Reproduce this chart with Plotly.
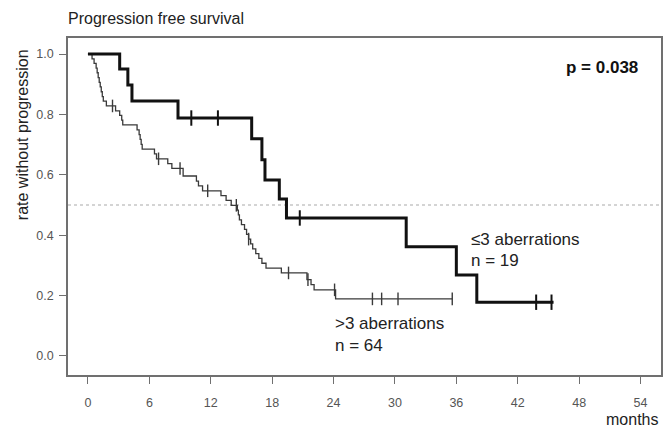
import numpy as np
import plotly.graph_objects as go

# ---------------- data ----------------
# group "<=3 aberrations" (n = 19): step times (months) and survival levels
low_t = [0, 3.1, 3.9, 4.3, 8.8, 16.0, 17.0, 17.3, 18.7, 19.4, 31.1, 36.0, 38.0, 45.5]
low_s = [1.0, 0.950, 0.897, 0.844, 0.788, 0.719, 0.650, 0.583, 0.520, 0.457, 0.362, 0.268, 0.178, 0.178]
low_cens = [10.1, 12.7, 20.7, 43.8, 45.3]

# group ">3 aberrations" (n = 64)
high_t = [0, 0.4, 0.6, 0.8, 0.9, 1.0, 1.1, 1.2, 1.3, 1.4, 1.5, 1.8, 2.7, 3.1, 3.3, 3.4,
          4.8, 5.0, 5.1, 5.2, 5.3, 6.5, 6.7, 7.8, 8.2, 9.3, 10.6, 10.8, 11.2, 13.0, 13.5,
          14.0, 14.6, 14.7, 14.8, 15.0, 15.3, 15.5, 15.7, 15.9, 16.1, 16.4, 16.7, 17.0,
          17.4, 18.9, 21.4, 21.8, 22.1, 24.2, 35.6]
high_s = [1.0, 0.984, 0.969, 0.953, 0.938, 0.922, 0.906, 0.891, 0.875, 0.859, 0.844, 0.828,
          0.812, 0.797, 0.781, 0.765, 0.749, 0.733, 0.717, 0.701, 0.685, 0.669, 0.653, 0.637,
          0.621, 0.596, 0.579, 0.563, 0.547, 0.531, 0.515, 0.499, 0.483, 0.467, 0.451, 0.435,
          0.419, 0.403, 0.387, 0.371, 0.355, 0.339, 0.323, 0.307, 0.291, 0.275, 0.253, 0.236,
          0.219, 0.189, 0.189]
high_cens = [2.4, 6.9, 9.0, 11.7, 14.5, 15.7, 19.6, 21.5, 24.1, 27.8, 28.7, 30.3, 35.6]

x_ticks = [0, 6, 12, 18, 24, 30, 36, 42, 48, 54]
y_ticks = [0.0, 0.2, 0.4, 0.6, 0.8, 1.0]
ref_level = 0.5

title_text = "Progression free survival"
y_title = "rate without progression"
x_title = "months"
p_text = "p = 0.038"
low_label = ["≤3 aberrations", "n = 19"]
high_label = [">3 aberrations", "n = 64"]

# ---------------- figure ----------------
W, H = 669, 430
L, R, T, B = 68, 6, 38, 55
PW, PH = W - L - R, H - T - B
FONT = "Liberation Sans, Arial, sans-serif"


def px_x(px):
    return (px - L) / PW


def px_y(py):
    return (H - B - py) / PH


def step_value(times, surv, t):
    idx = np.searchsorted(np.array(times), t, side="right") - 1
    return [surv[i] for i in idx]


fig = go.Figure()

fig.add_trace(go.Scatter(x=high_t, y=high_s, mode="lines", line_shape="hv",
                         line=dict(color="#3a3a3a", width=1.3), showlegend=False))
fig.add_trace(go.Scatter(x=high_cens, y=step_value(high_t, high_s, high_cens), mode="markers",
                         marker=dict(symbol="line-ns", size=9, line=dict(color="#3a3a3a", width=1.4)),
                         showlegend=False))
fig.add_trace(go.Scatter(x=low_t, y=low_s, mode="lines", line_shape="hv",
                         line=dict(color="#111111", width=3), showlegend=False))
fig.add_trace(go.Scatter(x=low_cens, y=step_value(low_t, low_s, low_cens), mode="markers",
                         marker=dict(symbol="line-ns", size=11, line=dict(color="#111111", width=2)),
                         showlegend=False))

fig.add_shape(type="line", xref="paper", x0=0, x1=1, yref="y", y0=ref_level, y1=ref_level,
              line=dict(color="#aaaaaa", width=1.2, dash="dot"), layer="below")

axis_common = dict(showline=True, mirror=True, linecolor="#707070", linewidth=1.6,
                   ticks="outside", tickcolor="#707070", tickwidth=1.4,
                   showgrid=False, zeroline=False,
                   tickfont=dict(family=FONT, size=12.5, color="#555555"))

fig.update_xaxes(range=[-1.95, 56.0], tickvals=x_ticks, ticklen=7, ticklabelstandoff=8,
                 **axis_common)
fig.update_yaxes(range=[-0.063, 1.053], tickvals=y_ticks, tickformat=".1f", ticklen=7,
                 ticklabelstandoff=3, **axis_common)

ann = []
ann.append(dict(text=y_title, textangle=-90, xref="paper", yref="paper",
                x=px_x(22), y=px_y(135), xanchor="center", yanchor="middle",
                showarrow=False, font=dict(family=FONT, size=16, color="#222222")))
ann.append(dict(text=x_title, xref="paper", yref="paper", x=px_x(662), y=px_y(419),
                xanchor="right", yanchor="middle", showarrow=False,
                font=dict(family=FONT, size=16, color="#222222")))
ann.append(dict(text="<b>" + p_text + "</b>", xref="paper", yref="paper", x=px_x(642), y=px_y(68),
                xanchor="right", yanchor="middle", showarrow=False,
                font=dict(family=FONT, size=17, color="#111111")))
for i, txt in enumerate(low_label):
    ann.append(dict(text=txt, xref="paper", yref="paper", x=px_x(470), y=px_y(239 + 21 * i),
                    xanchor="left", yanchor="middle", showarrow=False,
                    font=dict(family=FONT, size=17, color="#222222")))
for i, txt in enumerate(high_label):
    ann.append(dict(text=txt, xref="paper", yref="paper", x=px_x(334), y=px_y(323 + 22 * i),
                    xanchor="left", yanchor="middle", showarrow=False,
                    font=dict(family=FONT, size=17, color="#222222")))

fig.update_layout(
    width=W, height=H,
    margin=dict(l=L, r=R, t=T, b=B),
    paper_bgcolor="white", plot_bgcolor="white",
    title=dict(text=title_text, x=68 / W, xanchor="left", y=1 - 18 / H, yanchor="middle",
               font=dict(family=FONT, size=16, color="#222222")),
    annotations=ann,
    showlegend=False,
)

fig.write_html("out.html")
